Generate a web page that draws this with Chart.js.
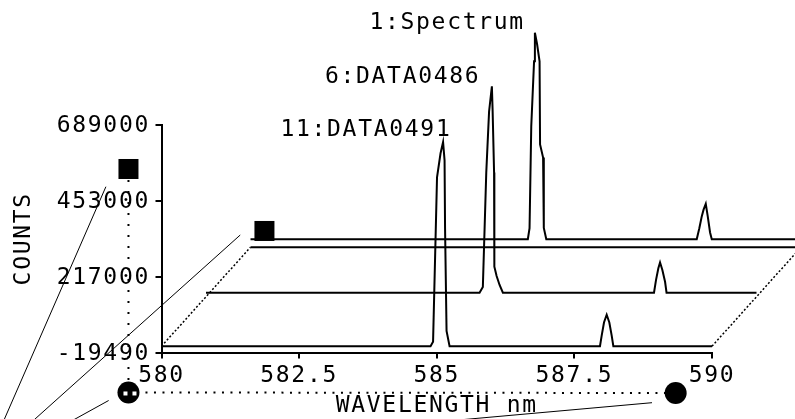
<!DOCTYPE html>
<html>
<head>
<meta charset="utf-8">
<script src="https://cdn.jsdelivr.net/npm/chart.js@4.4.0/dist/chart.umd.min.js"></script>
<style>
    html, body { margin: 0; padding: 0; background: #ffffff; }
    #wrap { position: relative; width: 795px; height: 419px; }
</style>
</head>
<body>
<div id="wrap"><canvas id="waterfall"></canvas></div>
<script>
//SPECTRA (front to back)
const traceNames = ["11:DATA0491", "6:DATA0486", "1:Spectrum"];

const wl11 = [580, 584.887, 584.933, 585.005, 585.069, 585.115, 585.142, 585.151, 585.178, 585.233,
    587.965, 587.996, 588.038, 588.087, 588.135, 588.178, 588.208, 590];
const counts11 = [0, 0, 14000, 526000, 601000, 636000, 579000, 367000, 48000, 0,
    0, 33000, 74000, 98000, 74000, 33000, 0, 0];

const wl6 = [580, 584.969, 585.029, 585.091, 585.142, 585.193, 585.206, 585.233, 585.238, 585.279, 585.333, 585.393,
    588.138, 588.175, 588.217, 588.248, 588.290, 588.339, 588.366, 590];
const counts6 = [0, 0, 18000, 374000, 564000, 643000, 571000, 374000, 81000, 52000, 24000, 0,
    0, 40000, 76000, 94000, 71000, 34000, 0, 0];

const wl1 = [580, 585.038, 585.069, 585.100, 585.151, 585.166, 585.206, 585.251, 585.260, 585.315, 585.328, 585.373,
    588.106, 588.153, 588.197, 588.230, 588.270, 588.306, 588.348, 588.379, 590];
const counts1 = [0, 0, 34000, 352000, 554000, 643000, 607000, 554000, 295000, 254000, 35000, 0,
    0, 34000, 71000, 92000, 110000, 71000, 21000, 0, 0];

//AXES
const xTicks = [580, 582.5, 585, 587.5, 590];
const yTicks = [-19490, 217000, 453000, 689000];

// offset between successive spectra in the 3D view
const stepWl = 0.8084;
const stepCounts = 166700;
const floorLevel = -25000;

// name labels, in each spectrum's own units
const labelWl = 582.16;
const labelCounts = 654000;

// view handles [wavelength, counts]
const squareHandles = [[579.40, 552000], [581.87, 359000]];
const circleHandles = [[579.40, -144000], [589.34, -145600]];

// pointer lines running off the bottom edge
const pointerLines = [
    [[578.99, 496800], [577.06, -260800]],
    [[581.43, 346400], [577.48, -260800]],
    [[579.04, -169000], [578.07, -260800]],
    [[588.91, -175800], [583.37, -260800]]
];

const FONT = "'DejaVu Sans Mono', monospace";
const SPACING = "1.7px";

function pt(w, c) {
    return { x: w, y: c };
}

function lineSet(data, width, dash) {
    return {
        data: data,
        borderColor: "#000000",
        borderWidth: width,
        borderDash: dash || [],
        pointRadius: 0,
        tension: 0,
        clip: false
    };
}

const spectra = [[wl11, counts11], [wl6, counts6], [wl1, counts1]];
const datasets = [];

spectra.forEach(([wl, ct], k) => {
    const pts = wl.map((w, i) => pt(w + k * stepWl, ct[i] + k * stepCounts));
    datasets.push(lineSet(pts, 2));
});

// back floor edge and the two side edges
const backY = floorLevel + 2 * stepCounts;
const xMin = xTicks[0];
const xMax = xTicks[xTicks.length - 1];
datasets.push(lineSet([pt(xMin + 2 * stepWl, backY), pt(xMax + 2 * stepWl, backY)], 2));
datasets.push(lineSet([pt(xMin, 0), pt(xMin + 2 * stepWl, backY)], 1.5, [2, 2]));
datasets.push(lineSet([pt(xMax, 0), pt(xMax + 2 * stepWl, backY)], 1.5, [2, 2]));

// dotted guides between the handles
datasets.push(lineSet([pt(...squareHandles[0]), pt(...circleHandles[0])], 2, [2, 9]));
datasets.push(lineSet([pt(...circleHandles[0]), pt(...circleHandles[1])], 2, [2, 6.5]));

pointerLines.forEach(seg => {
    datasets.push(lineSet(seg.map(p => pt(p[0], p[1])), 1));
});

//PLUGINS
const spacingPlugin = {
    id: "spacing",
    beforeUpdate(chart) { chart.ctx.letterSpacing = SPACING; },
    beforeDraw(chart) { chart.ctx.letterSpacing = SPACING; }
};

const overlayPlugin = {
    id: "overlay",
    afterDatasetsDraw(chart) {
        const { ctx } = chart;
        const xs = chart.scales.x;
        const ys = chart.scales.y;
        ctx.save();
        ctx.fillStyle = "#000000";

        squareHandles.forEach(([w, c]) => {
            const px = xs.getPixelForValue(w);
            const py = ys.getPixelForValue(c);
            ctx.fillRect(px - 10, py - 10, 20, 20);
        });

        circleHandles.forEach(([w, c], i) => {
            const px = xs.getPixelForValue(w);
            const py = ys.getPixelForValue(c);
            ctx.beginPath();
            ctx.arc(px, py, 11, 0, Math.PI * 2);
            ctx.fill();
            if (i === 0) {
                ctx.fillStyle = "#ffffff";
                ctx.fillRect(px - 5, py - 1, 4, 4);
                ctx.fillRect(px + 4, py - 1, 4, 4);
                ctx.fillStyle = "#000000";
            }
        });

        ctx.letterSpacing = SPACING;
        ctx.font = "23px " + FONT;
        ctx.textAlign = "left";
        ctx.textBaseline = "alphabetic";
        traceNames.forEach((name, k) => {
            ctx.fillText(name,
                xs.getPixelForValue(labelWl + k * stepWl),
                ys.getPixelForValue(labelCounts + k * stepCounts));
        });
        ctx.restore();
    }
};

//CHART
const tickFont = { family: FONT, size: 23 };
const titleFont = { family: FONT, size: 23, lineHeight: 1.1 };

new Chart(document.getElementById("waterfall"), {
    type: "line",
    data: { datasets: datasets },
    options: {
        responsive: true,
        maintainAspectRatio: false,
        animation: false,
        events: [],
        layout: { padding: { top: 125, right: 83, left: 0, bottom: 0 } },
        plugins: {
            legend: { display: false },
            tooltip: { enabled: false }
        },
        scales: {
            x: {
                type: "linear",
                bounds: "data",
                afterDataLimits: s => { s.min = xMin; s.max = xMax; },
                afterBuildTicks: s => {
                    s.min = xMin; s.max = xMax;
                    s.ticks = xTicks.map(v => ({ value: v }));
                },
                afterFit: s => { s.height = 66.5; },
                border: { display: true, color: "#000000", width: 2 },
                grid: { drawOnChartArea: false, drawTicks: true, tickLength: 6, color: "#000000", lineWidth: 2 },
                ticks: {
                    color: "#000000",
                    font: tickFont,
                    padding: 4,
                    maxRotation: 0,
                    autoSkip: false,
                    callback: v => String(v)
                },
                title: {
                    display: true,
                    text: "WAVELENGTH nm",
                    color: "#000000",
                    font: titleFont,
                    padding: { top: 0, bottom: 0 }
                }
            },
            y: {
                type: "linear",
                bounds: "data",
                afterDataLimits: s => { s.min = yTicks[0]; s.max = yTicks[yTicks.length - 1]; },
                afterBuildTicks: s => {
                    s.min = yTicks[0]; s.max = yTicks[yTicks.length - 1];
                    s.ticks = yTicks.map(v => ({ value: v }));
                },
                afterFit: s => { s.width = 161.5; },
                border: { display: true, color: "#000000", width: 2 },
                grid: { drawOnChartArea: false, drawTicks: true, tickLength: 6, color: "#000000", lineWidth: 2 },
                ticks: {
                    color: "#000000",
                    font: tickFont,
                    padding: 5.5,
                    labelOffset: 1.5,
                    autoSkip: false,
                    callback: v => String(v)
                },
                title: {
                    display: true,
                    text: "COUNTS",
                    color: "#000000",
                    font: titleFont,
                    padding: { top: 11.3, bottom: 0 }
                }
            }
        }
    },
    plugins: [spacingPlugin, overlayPlugin]
});
</script>
</body>
</html>
